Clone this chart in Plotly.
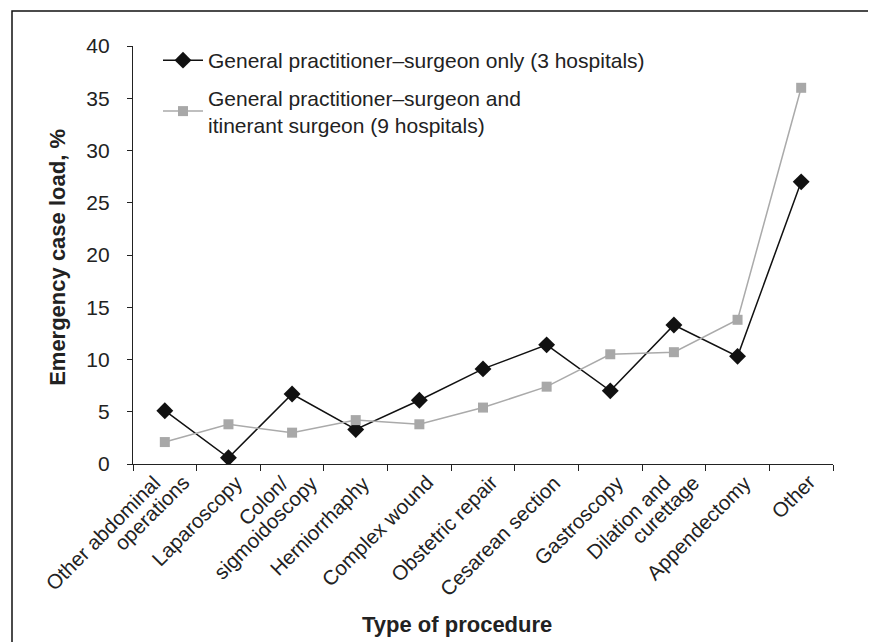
import plotly.graph_objects as go

categories = [
    "Other abdominal<br>operations", "Laparoscopy", "Colon/<br>sigmoidoscopy",
    "Herniorrhaphy", "Complex wound", "Obstetric repair", "Cesarean section",
    "Gastroscopy", "Dilation and<br>curettage", "Appendectomy", "Other",
]
gp_only = [5.1, 0.6, 6.7, 3.3, 6.1, 9.1, 11.4, 7.0, 13.3, 10.3, 27.0]
gp_itinerant = [2.1, 3.8, 3.0, 4.2, 3.8, 5.4, 7.4, 10.5, 10.7, 13.8, 36.0]
series_names = [
    "General practitioner\u2013surgeon only (3 hospitals)",
    "General practitioner\u2013surgeon and<br>itinerant surgeon (9 hospitals)",
]
y_ticks = [0, 5, 10, 15, 20, 25, 30, 35, 40]

FONT = "Liberation Sans, Arial, sans-serif"
TXT = "#222222"

fig = go.Figure()
fig.add_trace(go.Scatter(
    x=categories, y=gp_only, name=series_names[0], mode="lines+markers",
    legendgroup="a",
    line=dict(color="#111111", width=1.5),
    marker=dict(symbol="diamond", size=13, color="#111111"),
))
fig.add_trace(go.Scatter(
    x=categories, y=gp_itinerant, name=series_names[1], mode="lines+markers",
    legendgroup="b",
    line=dict(color="#aaaaaa", width=1.5),
    marker=dict(symbol="square", size=10, color="#a8a8a8"),
))

# page body adds an 8px offset; work in reference pixel coordinates
OFF = 8
W, H = 876 - OFF, 642 - OFF
X0, X1 = 133, 833      # plot area in reference pixels
Y0, Y1 = 46, 464.3
L = X0 - OFF
R = W - (X1 - OFF)
T = Y0 - OFF
B = H - (Y1 - OFF)
pw, ph = X1 - X0, Y1 - Y0

def px(x):
    return (x - X0) / pw

def py(y):
    return (Y1 - y) / ph

# rotated category labels, one annotation per text line, placed on the category axis
TICK_SIZE = 20.5
S_SINGLE = 21
V_DROP = 4
label_annotations = []
for cat in categories:
    lines = cat.split("<br>")
    if len(lines) == 1:
        shifts = [S_SINGLE]
    else:
        shifts = [S_SINGLE - 18, S_SINGLE + 11]
    for line, sh in zip(lines, shifts):
        label_annotations.append(dict(
            text=line, x=cat, xref="x", y=0, yref="paper",
            xanchor="right", yanchor="top", textangle=-45,
            xshift=sh, yshift=-V_DROP, showarrow=False,
            font=dict(size=TICK_SIZE, color=TXT),
        ))

fig.update_layout(
    width=W, height=H,
    margin=dict(l=L, r=R, t=T, b=B, autoexpand=False),
    paper_bgcolor="white", plot_bgcolor="white",
    font=dict(family=FONT, color=TXT, size=21),
    showlegend=True,
    legend=dict(
        x=px(158), y=py(40), xanchor="left", yanchor="top",
        font=dict(size=21, color=TXT), bgcolor="rgba(0,0,0,0)",
        traceorder="grouped", tracegroupgap=7, itemwidth=40,
    ),
    xaxis=dict(
        type="category", range=[-0.5, 10.5], tickson="boundaries",
        ticks="outside", ticklen=6, tickcolor="#222", tickwidth=1.2,
        showline=True, linecolor="#222", linewidth=1.2,
        showgrid=False, zeroline=False, showticklabels=False,
    ),
    yaxis=dict(
        range=[0, 40], tickvals=y_ticks, ticks="outside", ticklen=5,
        tickcolor="#222", tickwidth=1.2,
        showline=True, linecolor="#222", linewidth=1.2,
        showgrid=False, zeroline=False, ticklabelstandoff=13,
        tickfont=dict(size=21, color=TXT),
    ),
    annotations=label_annotations + [
        dict(text="<b>Emergency case load, %</b>", textangle=-90,
             x=px(58), y=py(258), xref="paper", yref="paper",
             xanchor="center", yanchor="middle",
             showarrow=False, font=dict(size=22, color=TXT)),
        dict(text="<b>Type of procedure</b>",
             x=px(457), y=py(625), xref="paper", yref="paper",
             xanchor="center", yanchor="middle",
             showarrow=False, font=dict(size=22, color=TXT)),
    ],
    shapes=[
        dict(type="rect", xref="paper", yref="paper",
             x0=px(12), x1=px(873), y0=py(670), y1=py(11),
             line=dict(color="#111111", width=1.5)),
    ],
)

fig.write_html("out.html")
